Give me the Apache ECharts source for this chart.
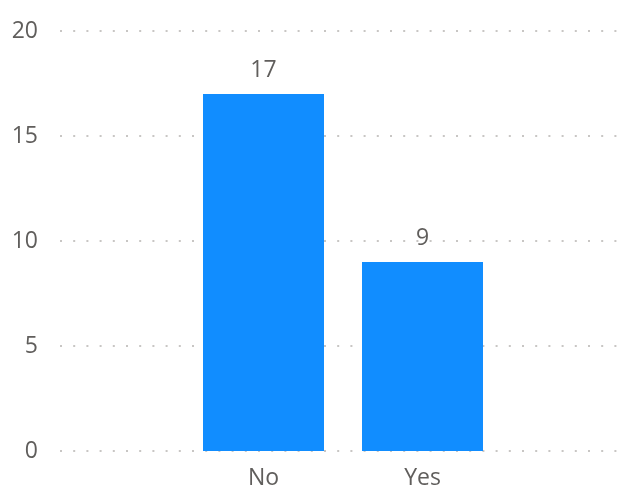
<!DOCTYPE html>
<html>
<head>
<meta charset="utf-8">
<script src="https://cdn.jsdelivr.net/npm/echarts@6/dist/echarts.min.js"></script>
<style>html,body{margin:0;padding:0;background:#fff}#c{width:619px;height:493px}</style>
</head>
<body>
<div id="c"></div>
<script>
const categories = ['No', 'Yes'];
const counts = [17, 9];
const yTicks = [0, 5, 10, 15, 20];

const font = '"Segoe UI", "Open Sans", "Noto Sans", sans-serif';
const textColor = '#605e5c';
const chart = echarts.init(document.getElementById('c'), null, {renderer: 'canvas'});
chart.setOption({
  animation: false,
  grid: [
    {left: 60, right: 2, top: 31, bottom: 42},
    {left: 184, right: 117, top: 31, bottom: 42}
  ],
  xAxis: [
    {gridIndex: 0, type: 'category', data: categories, show: false},
    {gridIndex: 1, type: 'category', data: categories,
     axisLine: {show: false}, axisTick: {show: false},
     axisLabel: {color: textColor, fontSize: 23, fontFamily: font, margin: 16}}
  ],
  yAxis: [
    {gridIndex: 0, type: 'value', min: yTicks[0], max: yTicks[yTicks.length - 1], interval: 5,
     axisLine: {show: false}, axisTick: {show: false},
     axisLabel: {color: textColor, fontSize: 23, fontFamily: font, margin: 22},
     splitLine: {lineStyle: {color: '#c8c6c4', width: 2, type: [2, 11.2]}}},
    {gridIndex: 1, type: 'value', min: yTicks[0], max: yTicks[yTicks.length - 1], interval: 5,
     show: false, splitLine: {show: false}}
  ],
  series: [{
    type: 'bar',
    xAxisIndex: 1, yAxisIndex: 1,
    data: counts,
    barWidth: 121,
    itemStyle: {color: '#118dff'},
    label: {show: true, position: 'top', distance: 12, color: textColor, fontSize: 23, fontFamily: font}
  }]
});
</script>
</body>
</html>
